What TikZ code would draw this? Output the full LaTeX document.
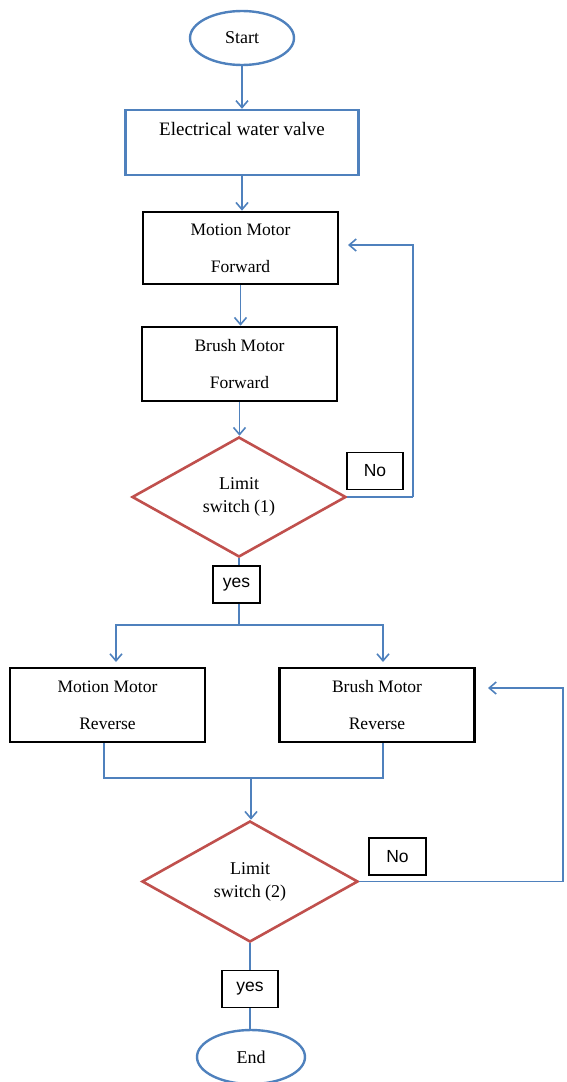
\documentclass[tikz,border=0pt]{standalone}
\usepackage{fontspec}
\setmainfont{Liberation Serif}
\newfontfamily\labsans{Liberation Sans}
\usetikzlibrary{shapes.geometric,arrows.meta,calc}
\definecolor{flowblue}{HTML}{4F81BD}
\definecolor{flowred}{HTML}{C0504D}
\tikzset{
  conn/.style={draw=flowblue, line width=1.8pt},
  arr/.style={conn, -{Straight Barb[length=7pt,width=12pt,line width=1.6pt]}},
  term/.style={ellipse, draw=flowblue, line width=2.4pt, minimum width=104pt, minimum height=54pt, inner sep=0pt, font=\fontsize{18}{21}\selectfont},
  procbox/.style={rectangle, draw=black, line width=2.6pt, minimum width=195pt, minimum height=72pt, inner sep=0pt, align=center, font=\fontsize{17.5}{37}\selectfont},
  decision/.style={diamond, draw=flowred, line width=2.6pt, inner sep=0pt, aspect=1.8, minimum width=214pt, minimum height=120pt, align=center, font=\fontsize{18}{23}\selectfont},
  tag/.style={rectangle, draw=black, line width=1.5pt, inner sep=0pt, minimum height=37pt, font=\labsans\fontsize{17.5}{20}\selectfont}
}
\begin{document}
\begin{tikzpicture}[x={(1pt,0)}, y={(0,-1pt)}]
\useasboundingbox (0,0) rectangle (566,1082);
% nodes
\node[term] (start) at (242,38) {Start};
\node[rectangle, draw=flowblue, line width=2.4pt, minimum width=233pt, minimum height=65pt, inner sep=0pt,
      text height=14pt, text depth=29pt, font=\fontsize{19}{23}\selectfont] (ewv) at (242,142.5) {Electrical water valve};
\node[procbox] (mmf) at (240.5,248) {Motion Motor\\Forward};
\node[procbox, minimum height=74pt] (bmf) at (239.5,364) {Brush Motor\\Forward};
\node[decision] (d1) at (239,497) {Limit\\switch (1)};
\node[tag, minimum width=56pt] (no1) at (375,471) {No};
\node[tag, minimum width=47pt] (yes1) at (236.5,584.5) {yes};
\node[procbox, minimum height=74pt] (mmr) at (107.5,705) {Motion Motor\\Reverse};
\node[procbox, minimum height=74pt] (bmr) at (377,705) {Brush Motor\\Reverse};
\node[decision, minimum width=216pt, minimum height=121pt] (d2) at (250,881.5) {Limit\\switch (2)};
\node[tag, minimum width=57pt] (no2) at (397.5,856.5) {No};
\node[tag, minimum width=56pt] (yes2) at (250,989) {yes};
\node[term, minimum width=108pt] (end) at (251,1057) {End};
% helper coordinates
\coordinate (loop1) at (413,497);
\coordinate (mmfin) at (348,245);
\coordinate (br) at (239,625);
\coordinate (mmrin) at (116,662);
\coordinate (bmrin) at (383,662);
\coordinate (mg) at (251,778);
\coordinate (loop2) at (563,881.5);
\coordinate (bmrback) at (488,688);
% connectors
\draw[arr] (start.south -| ewv.north) -- (ewv.north);
\draw[arr] (ewv.south) -- (ewv.south |- mmf.north);
\draw[arr] (mmf.south) -- (mmf.south |- bmf.north);
\draw[arr] (bmf.south) -- (bmf.south |- d1.north);
\draw[conn] (d1.east) -- (loop1);
\draw[arr] (loop1) |- (mmfin);
\draw[conn] (d1.south) -- (d1.south |- yes1.north);
\draw[conn] (d1.south |- yes1.south) -- (br);
\draw[arr] (br) -| (mmrin);
\draw[arr] (br) -| (bmrin);
\draw[conn] (mmr.south -| 104,0) |- (mg);
\draw[conn] (bmr.south -| 383,0) |- (mg);
\draw[arr] (mg) -- (mg |- d2.north);
\draw[conn] (d2.east) -- (loop2);
\draw[arr] (loop2) |- (bmrback);
\draw[conn] (d2.south) -- (d2.south |- yes2.north);
\draw[conn] (yes2.south) -- (yes2.south |- end.north);
\end{tikzpicture}
\end{document}
